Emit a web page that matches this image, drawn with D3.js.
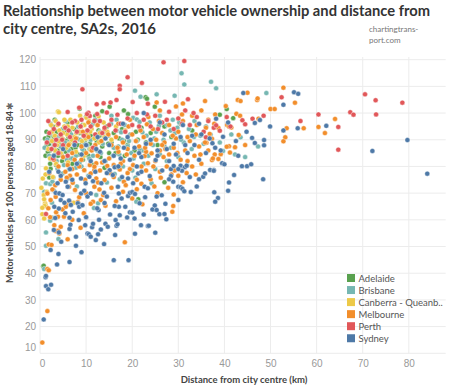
<!DOCTYPE html>
<html>
<head>
<meta charset="utf-8">
<script src="https://cdn.jsdelivr.net/npm/d3@7"></script>
<style>
body { margin: 0; background: #fff; }
svg { display: block; font-family: Lato, "Open Sans", sans-serif; }
.grid line { stroke: #ececec; stroke-width: 1; }
.tick text { fill: #999; font-size: 10px; }
</style>
</head>
<body>
<div></div>
<script>
var w = 450;
var h = 388;

var cities = ["Adelaide", "Brisbane", "Canberra - Queanb..", "Melbourne", "Perth", "Sydney"];
var colours = ["#59a14f", "#76b7b2", "#edc948", "#f28e2b", "#e15759", "#4e79a7"];
var xTicks = [0, 10, 20, 30, 40, 50, 60, 70, 80];
var yTicks = [10, 20, 30, 40, 50, 60, 70, 80, 90, 100, 110, 120];

// [distance km, vehicles per 100 persons]
var adelaide = [[0.7,42.6],[0.8,42.8],[2,75.9],[2.3,79.1],[27,74.1],[21.3,67.7],[16.9,79.7],[8.6,101.6],[15.1,102.4],[18.2,101],[13.5,100.7],[19.1,99.6],[22.9,105.9],[24.9,102.4],[23.2,105.4],[39,99.4],[40.5,101.5],[41.9,98.1],
	[1.5,88],[1.8,91],[2.1,86],[2.4,89.5],[2.6,92],[2.9,84],[3.1,87.5],[3.3,90.5],[3.6,93],[3.8,86],[4.1,89],[4.3,91.5],[4.6,84.5],[4.8,87.5],[5.1,90],[5.3,92.8],[5.6,85.5],[5.9,88.5],[6.2,91],[6.5,83],[6.8,86.5],[7.1,89.5],[7.4,94],[7.7,87],[8,90.5],[8.3,84.5],[8.6,92.5],[8.9,88],[9.2,95.5],[9.5,86],[9.8,90],[10.2,93],[10.5,84],[10.8,88.5],[11.1,91.5],[11.5,96],[11.9,86.5],[12.3,89.5],[12.7,93.5],[13.1,83.5],[13.5,87.5],[14,91],[14.5,95],[15,85],[15.5,89],[16,92.5],[16.6,87],[17.2,90.5],[17.8,94],[18.4,84],[19,88],[19.7,92],[20.5,86],[21.2,90],[22,94.5],[23,89],[24,92.5],[25.5,88],[27,95],[28.5,91],[30.5,96],[33,93.5],[2.2,81],[3.5,80.5],[4.8,82],[7,81],[9.3,82.5],[11.5,80.5],[14,79.5],[1.2,84],[1.4,93],[2.8,95],[6,96.5],[3.2,97.5],[10,98.5],[12,99],
	[2,88.5],[3,91],[3.9,84],[4.5,93],[5.7,89.5],[6.4,93],[7.4,85],[8.1,88],[9.4,92],[10.8,86.5],[12.9,91.5],[14.8,88.5],[16.4,85],[18.2,89.5],[20.8,93],[1.7,85.5],[1.1,90.5]];

var brisbane = [[0.9,41.6],[1.3,50.3],[2.2,59.7],[2.7,60.8],[1.3,55.3],[4,52.8],[11.7,64.4],[12.6,66.2],[20.9,66.8],[2.6,66.4],[1.3,73.7],[2.2,73.4],[2.7,74.3],[0.9,70.5],[2.9,75.9],[3.8,79.1],[4.9,77.4],[6.3,78.9],[7.8,79.5],[12.2,69.3],[24.2,73.7],[20.7,75.8],[16.2,77.2],[17.3,75.2],[31.9,80.5],[30.7,114.9],[31.3,110.7],[37.1,111.7],[38.2,109.3],[25.3,107],[29.2,106.5],[49.1,107.5],[47.3,87.5],[43.5,90.9],[44.5,83.5],[39.7,85.8],[42.3,84.5],[20.6,108.4],[21.8,106.1],[16.6,97.5],[20.2,98.2],[21,97.6],[21.6,96.7],
	[1,87],[1.6,90],[2,84],[2.5,92.5],[3,88],[3.4,85],[3.9,91],[4.4,87.5],[4.9,94],[5.4,89],[5.8,82.5],[6.3,86],[6.8,92],[7.3,88.5],[7.8,84],[8.3,95],[8.7,90],[9.2,86.5],[9.7,92.5],[10.2,88],[10.7,83],[11.2,95.5],[11.8,90.5],[12.4,86],[13,93],[13.6,88.5],[14.2,82],[14.8,91.5],[15.4,96],[16,87],[16.6,93.5],[17.2,84.5],[17.8,90],[18.4,95.5],[19,87.5],[19.6,92],[20.3,83],[21,89.5],[21.7,94],[22.4,86],[23.1,91.5],[23.8,96.5],[24.5,88],[25.2,93],[26,84.5],[26.8,90],[27.6,95.5],[28.4,87],[29.3,92.5],[30.2,96.5],[31.2,89],[32.3,94],[33.5,97],[34.8,91.5],[36,95],[18,80],[20,78.5],[22.5,81],[25,79],[27.5,82],[30,83.5],[9,80],[6,75.5],[10.5,76.5],[14.5,74],[4.2,70],[3,71],[8,72.5],[28.8,97.5],[15.5,99],[12,97.5],[5.5,97],[2.3,96],[26,99],
	[3.6,82],[5.2,80.5],[7,83],[8.6,81.5],[11.5,84],[13.2,85],[15.8,84],[17,87.5],[19.8,85],[21.6,86.5],[23.5,84],[24.8,90.5],[27,87.5],[28.3,93.5],[30.6,90],[32.9,86.5],[35.5,88.5],[37,92],[39,89],[41.5,92],[19.3,89.5],[11,90],[9.5,88.5],[14.2,93],[17.6,92.8],[22.2,92.8],[25.8,95.2],[29.8,94.5],[33.4,91],[6.5,89.5],[4.5,91],[2.8,89.2]];

var canberra = [[0.5,62.1],[1.1,66.2],[1.2,65.5],[7.3,66.4],[0.8,69.3],[0.9,67.7],[1,65.2],[3.9,100.6],[4.1,100.3],[10.1,98.2],[12.7,98.8],
	[0.3,72],[0.6,75.5],[1.3,79.3],[2.2,83],[1.8,86.5],[2.6,89.5],[3.2,91.5],[3.7,88],[4.2,93.5],[4.8,90.5],[5.3,95],[5.9,92],[6.4,88.5],[7,94.5],[7.5,91],[8.1,96.5],[8.6,93],[9.1,89.5],[9.6,95.5],[10.1,92],[10.6,97],[11.2,94],[11.8,90.5],[12.4,95.5],[13,92.5],[13.8,96.5],[14.6,93],[15.5,90],[3.4,97],[2.4,95.5],[6.6,97.5],[4.5,85],[5.7,87],[7.8,85.5],[9.5,84],[0.5,64.5],[0.9,60.5],[1.5,70.5],[1.2,77],[2.8,76],[3.5,81],[6.1,81.5],[11,86.5],[8.7,99],[16.5,95],[18.5,93.5],
	[3.3,86],[4,89.5],[5,92.5],[6,95],[6.9,90],[7.9,92.5],[8.9,95],[9.9,90.5],[10.9,93],[12,92],[12.8,89],[14,91],[2.6,93],[3.8,95.5],[5.3,97.5]];

var melbourne = [[0.5,14],[1.6,25.8],[1.6,41.6],[1.9,41.1],[1.9,50.8],[2.5,50.6],[3.1,58],[4.5,57.4],[3.4,55.8],[3.9,55.9],[4.2,54.9],[6,52.7],[3.9,61.2],[5.2,61.2],[3.5,62.8],[4.9,63.9],[5.7,65.7],[6.4,66.8],[8.2,66.7],[2.2,61],[1.8,64.3],[18.4,51.6],[14.2,65.3],[11.5,66.8],[22.2,65.8],
	[55.3,103.9],[57.2,94.3],[60.4,94.8],[61.8,92.5],[64,97.8],[31,103.6],[35.8,104.5],[25.3,104],[45,107.6],[52.8,109.5],[47.1,104.9],[42.9,104.9],[43.5,104.5],[47.2,105.5],[50,101.5],[50.9,101.5],[40.3,102.6],[42.6,99.7],[43.4,99],[47.4,97.9],[53.5,94.3],[53.2,90.9],[52.8,89.4],[44.5,88],[43.1,91.8],[40.6,95.5],[41,95],[41.5,94.6],[41,87.6],[42.3,87.2],[39.2,84.6],[37.9,84.5],[38.7,82.8],[37.3,82.4],[41.2,85.2],[40.5,87.4],[38.7,94.4],[36.8,92.2],[36.1,88.9],[37.3,90.4],[35.8,89],[37.5,83],[24,75.2],[28.7,63],[28.9,65.2],[31,74.1],[26.2,75.8],[12.2,75.5],[12.6,74],[11.8,72.4],[12.9,71.4],[14,74.9],[13.7,69.3],[13.2,67.4],[14,66.2],[17.3,78.9],[18.2,74.3],[14.6,80.2],[14.7,77.6],[24.2,84.9],[22.7,83.9],[23.4,81.2],[11.8,78.6],[12.2,81.2],[1.6,69.9],[2.7,71.4],[2.3,67.4],[3.4,68.6],[6.3,72.4],[7.1,73.9],[7.6,71.2],[5.6,64.9],[9.6,78.6],[11,77.4],[11.8,79.9],
	[5,83.5],[6,80.5],[7.5,82.5],[8.5,80],[10,85],[12.5,84],[13.5,81.5],[15,83],[16,80.5],[17,85.5],[18,82],[19,86.5],[19.5,79],[20.5,84],[21.5,87.5],[22,80],[23,85.5],[24,88.5],[25,82],[26,86],[27,89],[27.5,80],[28,84.5],[29,87],[29.5,90.5],[30.5,82.5],[31.5,86],[32.5,89.5],[33.5,84],[34.5,87.5],[15.5,88],[16.5,91],[18,89],[20,92],[22.5,91],[24.5,94],[26.5,92.5],[28,95.5],[30,93],[31,97],[32,91],[33,99],[34,95.5],[35,101],[36.5,97.5],[38,99.5],[12,88],[10.5,91],[9,87.5],[7,85],[4,80],[3,82.5],[5.5,78],[8,77],[9.8,75],[16,76],[19,77.5],[21,75],[23,78.5],[26,78],[28.5,77],[30,76.5],[33,80],[35,81],[21,71.5],[18,70.5],[15.5,72],[10,70],[8.5,68.5],[25.5,70],[29,69.5],[4.5,75],[2,77.5],[3.3,73],[17,96],[19.5,97.5],[14,94],[23.5,98.5],[26,101],[29.5,102.5],[6.5,76.5],
	[6.2,88],[7.8,90.5],[9.3,93],[11.2,86],[13.3,89.5],[14.8,92],[16.8,87],[18.8,84.5],[20.8,89.5],[22.8,87],[25.2,90],[27.2,86.5],[29.8,85],[32,82],[34.8,84.5],[36.5,86],[17.5,81],[20.2,80.5],[24.6,80],[26.8,83.5],[29.2,78.5],[31.8,77.5],[33.8,77],[15.2,77.5],[13,78.5],[10.8,80.5],[9,82.5],[7,79],[5.8,75.8],[18.6,73],[22,73.5],[24.8,72.5],[27.8,72],[20,68],[16.5,67],[11,66],[9.5,62.5],[7,60],[8.8,57],[26.5,88],[28.8,91.5],[21.8,93.5],[19.2,95],[12.5,95.5],[10.5,96.5],[23.2,95.8],[25.8,97],[30.8,99.5],[33.8,92],[36,94.5],[37.8,96]];

var perth = [[1.3,62.2],[26.8,119],[31.3,119.5],[22.1,111.3],[32.1,105.2],[27.1,104.2],[52.4,105.9],[43.9,97.3],[46.1,97.9],[41.3,95],[37.7,94.5],[38.2,95.4],[39,93.4],[36,90.9],[60.4,99.5],[64.7,94.8],[64.7,86.3],[67.3,100.3],[68,99.4],[70.5,107],[72.8,104.8],[72.9,99.5],[78.6,103.9],[9.2,108.9],[19,113.4],[17.3,110.2],[17.3,108.9],[16.6,104.9],[15.3,104],[13.8,103.7],[12.3,103.3],[20.1,104.1],[23.4,103.5],[6,100.4],[7.6,97],[10.5,100.1],[12.4,99.6],[10.8,98.9],[14.5,100.2],[16.8,99.4],[10.2,99.6],
	[1.5,89],[2,92.5],[2.5,86.5],[3,94],[3.5,90],[4,96],[4.5,92],[5,88],[5.5,94.5],[6.5,91],[7,96.5],[8,93],[9,97.5],[9.5,91.5],[11,95],[12,92],[13,97],[14,94.5],[15.5,97.5],[17.5,96],[18.5,93],[20,95.5],[21,100],[22.5,97.5],[24,95],[25,99],[26.5,96.5],[28,100.5],[29,94],[30,98],[31.5,101],[32.5,95.5],[34,98.5],[35.5,93],[2.8,83],[4,85],[6,84],[11.5,87],[1.8,97],[8.5,102],
	[3.2,88],[4.8,90],[6.2,93.5],[7.6,89],[8.8,95],[10.3,93.5],[11.8,97],[13.5,92.5],[15,95.5],[16.4,93.5],[19,98],[21.5,95],[23.2,99.5],[25.6,94],[27.5,97.5],[30.8,96],[33.3,100],[36.5,97],[40.5,98.5],[44.5,95.8],[48.5,99],[56.5,97]];

var sydney = [[0.8,22.7],[1.3,35.2],[1.8,34],[2.4,35.7],[1.2,38.5],[1.3,39],[3.7,43.3],[6.4,44.2],[9,47.9],[2.3,48.7],[4,47.2],[4.6,51.8],[7.8,50.3],[10.3,54.9],[10.6,54.6],[11,53.7],[11.3,57.2],[11.5,58.5],[12.1,52.4],[12.6,54.6],[13.2,56.4],[13.9,50.9],[14.2,58.5],[14.7,57.4],[16.4,59.9],[16.6,57.8],[16.8,58.3],[17.3,61.7],[17.1,64.9],[16.3,54.3],[16,44.9],[19.2,44.9],[18.9,60.9],[19.5,62.8],[20,62.7],[20.6,54.8],[21.9,58],[23.4,57.7],[23.6,57.8],[25,55.2],[25.9,62.1],[27.4,60.2],[30,67.4],[3,56.2],[4.1,55.3],[3.3,60.7],[3.1,64.9],[4.1,64.2],[6.4,60.8],[6.4,56.6],[6.6,58.2],[7.1,63],[7.8,53.7],[8.4,59.9],[8.5,65.7],[12.7,63.7],[14,66.3],
	[22.5,100],[38.2,97.9],[46.6,96.3],[47.7,97.4],[49.9,95],[52.8,93.5],[46,90.7],[48.6,89.9],[48.6,87.9],[46.6,88.8],[39.7,91.1],[37.4,88.7],[43.8,80.1],[44.9,80.1],[45.8,80.8],[48.4,75.2],[42.1,76.8],[41,74],[40.8,70.9],[38.6,68.2],[38,66.8],[37.7,78.7],[36.9,78.7],[39.5,81.2],[40,80.8],[44.1,107.5],[52.8,103.1],[55.1,107.8],[56,107.2],[55.9,94.3],[62.1,95.2],[72.1,85.8],[79.7,89.9],[84,77.3],
	[24.4,63.9],[25.3,63.7],[24.9,65.4],[27,62.2],[28.4,76.4],[28.9,74.3],[28,75.2],[30,72.4],[30.5,72.2],[30.9,71.6],[31.3,70.7],[32.7,70.4],[25.3,68.7],[30.5,80.3],[31.4,79.7],[31.8,80.3],[30.8,78.4],[30,79],[28.4,79],[29,80.2],[34.5,75.2],[35.4,76.1],[35.8,77.4],[37.7,78.4],[37.8,70.3],[26.4,69.2],[25.1,82.4],
	[21.6,66.2],[19.1,68.9],[19.5,70.1],[20,70.4],[20.6,69.7],[20.2,73.7],[19.1,75.5],[21.3,77.4],[16.9,72.4],[17.1,69.9],[17.7,68],[13.3,73.7],[13.9,70.1],[14.5,68.7],[16.2,65.2],[18.5,64.9],[12.4,64.3],[15.8,76.8],[16.2,79.7],[15.1,78.6],[23.8,76.4],[22.7,72.4],[23.4,71.8],
	[3.4,70.1],[4.2,69.9],[4.9,69.3],[4.5,67.4],[5.3,66.4],[6.3,67.2],[6.7,65.6],[3.8,73.7],[5.6,74.3],[6,72.4],[8.9,69.9],[9.6,70.9],[10.3,68.7],[11,69.9],[8.2,66.2],[8.5,64.9],[9.2,65.5],[8.9,75.5],[9.9,73.7],[10.7,76.1],
	[3,84],[5,86.5],[7.5,88],[9,84.5],[11,82],[13,85.5],[15,88],[17.5,83],[19,91],[20.5,87],[22,83.5],[24,90],[25.5,86],[27,92],[28,82],[29,88.5],[30.5,91],[32,85],[33.5,88],[35,92],[26,96.5],[31,95.5],[34.5,96],[36,85],[38,87],[12,78],[14,82],[17,80],[19.5,82.5],[21,80],[2,78],[6.5,79],[8,81],[4.5,76.5],[12.5,91],[18,96],
	[10,88],[12.2,86.5],[14.2,90.5],[16,84],[18.2,87],[21.5,85],[23,88.5],[25.5,84],[27.5,86.5],[29.5,84.5],[31.5,88],[33,91.5],[34.5,82.5],[36.8,90.5],[39.2,86],[42.5,89.5],[44.8,93],[40.8,96.5],[43,84],[4,78],[7,75],[11.5,74.5],[14.5,77.5],[17.8,76],[22,78],[26.5,78.5],[32.5,76],[34,72.5],[27.2,66],[22.8,68.5],[20.5,60.5],[22.5,62],[15.2,62],[10,61],[9.8,58],[5.5,62.5],[12.8,60]];

var seriesData = [adelaide, brisbane, canberra, melbourne, perth, sydney];

var svg = d3.select("div").append("svg")
	.attr("width", w)
	.attr("height", h);

var xScale = d3.scaleLinear().domain([0, 88]).range([40, 445.7]);
var yScale = d3.scaleLinear().domain([10, 121]).range([353.3, 57]);

//gridlines
var grid = svg.append("g").attr("class", "grid");
grid.selectAll("line.gx")
	.data(xTicks)
	.enter()
	.append("line")
	.attr("x1", function(d) { return xScale(d); })
	.attr("x2", function(d) { return xScale(d); })
	.attr("y1", yScale(121))
	.attr("y2", yScale(10));
grid.selectAll("line.gy")
	.data(yTicks)
	.enter()
	.append("line")
	.attr("x1", xScale(0))
	.attr("x2", xScale(88))
	.attr("y1", function(d) { return yScale(d); })
	.attr("y2", function(d) { return yScale(d); });

//axes
var xAxis = svg.append("g")
	.attr("transform", "translate(0," + (yScale(10) + 4) + ")")
	.call(d3.axisBottom(xScale).tickValues(xTicks).tickSize(0).tickPadding(3));
xAxis.select(".domain").remove();
xAxis.selectAll(".tick text").filter(function(d) { return d == 0; }).attr("dx", "0.2em");

var yAxis = svg.append("g")
	.attr("transform", "translate(" + (xScale(0) - 4) + ",0)")
	.call(d3.axisLeft(yScale).tickValues(yTicks).tickSize(0).tickPadding(0));
yAxis.select(".domain").remove();
// bottom label sits inside the plot like tableau does it
yAxis.selectAll(".tick text").filter(function(d) { return d == 10; }).attr("dy", "-0.3em");

//points
seriesData.forEach(function(pts, i) {
	svg.append("g").selectAll("circle")
		.data(pts)
		.enter()
		.append("circle")
		.attr("cx", function(d) { return xScale(d[0]); })
		.attr("cy", function(d) { return yScale(d[1]); })
		.attr("r", 2.5)
		.attr("fill", colours[i])
		.attr("stroke", "#fff")
		.attr("stroke-width", 0.4);
});

//titles
var title = svg.append("text")
	.attr("x", 3)
	.attr("font-size", 15)
	.attr("font-weight", "bold")
	.attr("fill", "#333");
title.append("tspan").attr("x", 3).attr("y", 16).attr("textLength", 427).attr("lengthAdjust", "spacingAndGlyphs")
	.text("Relationship between motor vehicle ownership and distance from");
title.append("tspan").attr("x", 3).attr("y", 34)
	.text("city centre, SA2s, 2016");

svg.append("text")
	.attr("x", 369).attr("y", 32)
	.attr("font-size", 8).attr("fill", "#777")
	.text("chartingtrans-");
svg.append("text")
	.attr("x", 369).attr("y", 43)
	.attr("font-size", 8).attr("fill", "#777")
	.text("port.com");

svg.append("text")
	.attr("x", 244).attr("y", 383)
	.attr("text-anchor", "middle")
	.attr("font-size", 9.5).attr("font-weight", "bold").attr("fill", "#444")
	.text("Distance from city centre (km)");

svg.append("text")
	.attr("transform", "translate(13,197) rotate(-90)")
	.attr("text-anchor", "middle")
	.attr("font-size", 9.5).attr("font-weight", "bold").attr("fill", "#444")
	.attr("textLength", 172).attr("lengthAdjust", "spacingAndGlyphs")
	.text("Motor vehicles per 100 persons aged 18-84");
svg.append("text")
	.attr("transform", "translate(13,106) rotate(-90)")
	.attr("text-anchor", "middle")
	.attr("font-size", 9).attr("fill", "#666")
	.text("\u2731");

//legend
var legend = svg.append("g").attr("transform", "translate(347,274)");
var items = legend.selectAll("g")
	.data(cities)
	.enter()
	.append("g")
	.attr("transform", function(d, i) { return "translate(0," + (i * 12.05) + ")"; });
items.append("rect")
	.attr("width", 8).attr("height", 8)
	.attr("fill", function(d, i) { return colours[i]; });
items.append("text")
	.attr("x", 11.5).attr("y", 7.5)
	.attr("font-size", 9.5).attr("fill", "#555")
	.text(function(d) { return d; });
</script>
</body>
</html>
